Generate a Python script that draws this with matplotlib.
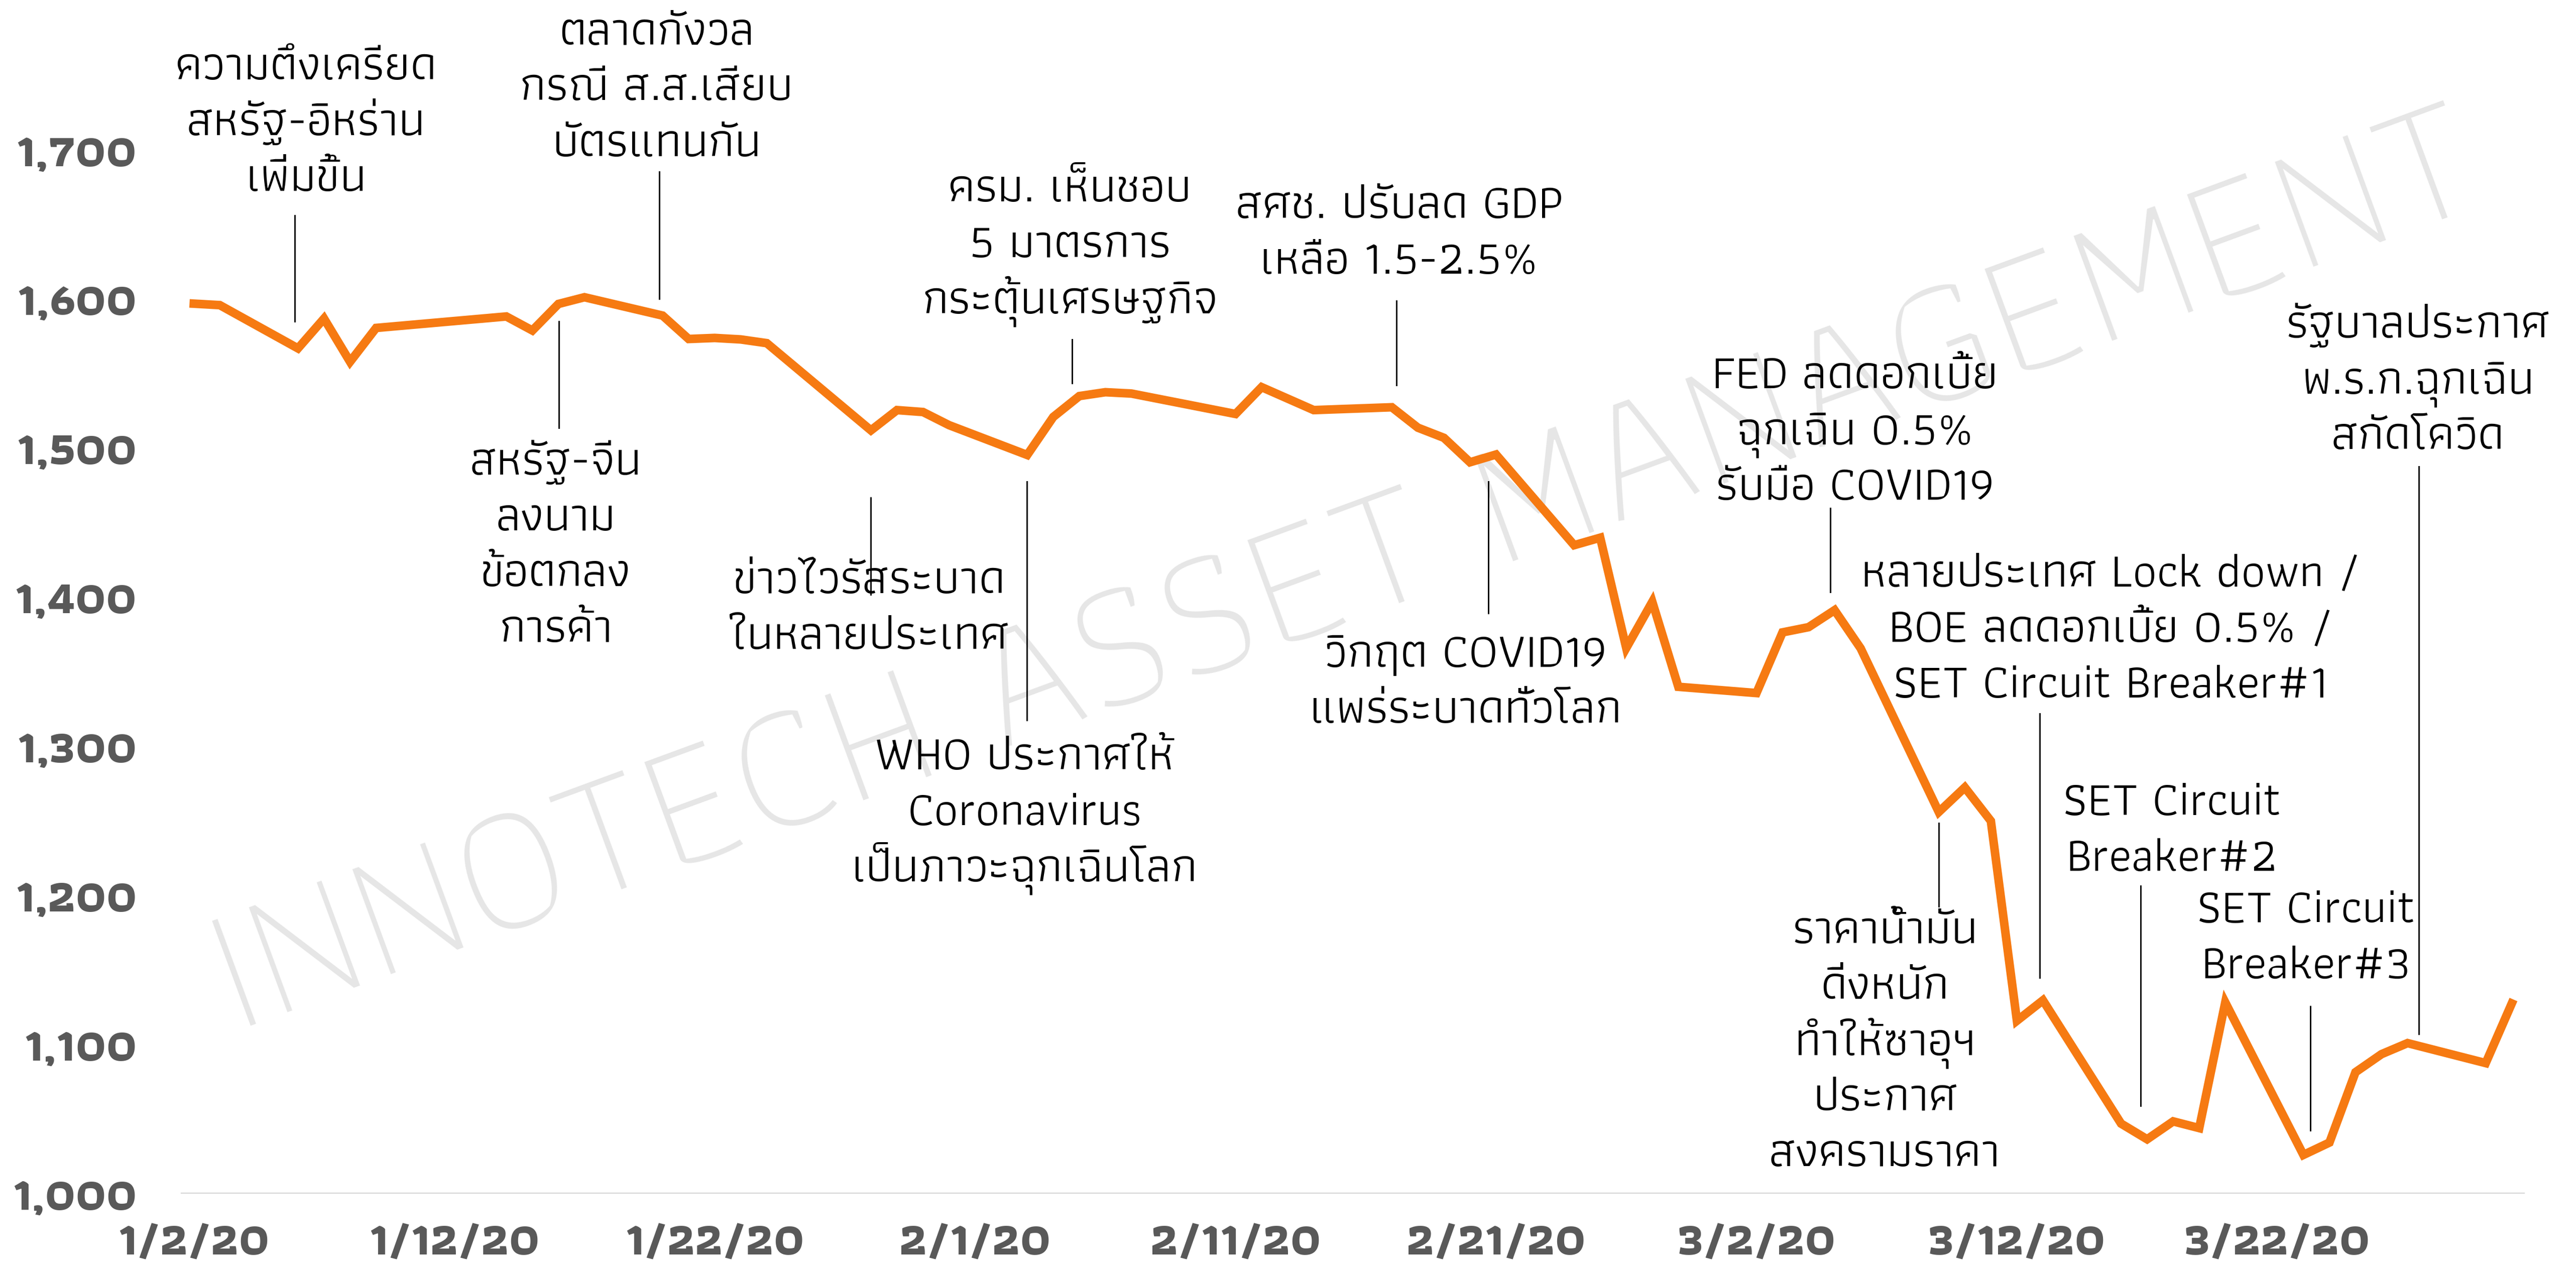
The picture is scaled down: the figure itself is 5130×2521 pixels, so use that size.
import matplotlib
matplotlib.use('Agg')
import matplotlib.pyplot as plt
from matplotlib import font_manager
from matplotlib.font_manager import FontProperties
import pandas as pd
import glob

# ---------------- data ----------------
dates = ['2020-01-02', '2020-01-03', '2020-01-06', '2020-01-07', '2020-01-08', '2020-01-09',
         '2020-01-14', '2020-01-15', '2020-01-16', '2020-01-17', '2020-01-20', '2020-01-21',
         '2020-01-22', '2020-01-23', '2020-01-24', '2020-01-28', '2020-01-29', '2020-01-30',
         '2020-01-31', '2020-02-03', '2020-02-04', '2020-02-05', '2020-02-06', '2020-02-07',
         '2020-02-11', '2020-02-12', '2020-02-14', '2020-02-17', '2020-02-18', '2020-02-19',
         '2020-02-20', '2020-02-21', '2020-02-24', '2020-02-25', '2020-02-26', '2020-02-27',
         '2020-02-28', '2020-03-02', '2020-03-03', '2020-03-04', '2020-03-05', '2020-03-06',
         '2020-03-09', '2020-03-10', '2020-03-11', '2020-03-12', '2020-03-13', '2020-03-16',
         '2020-03-17', '2020-03-18', '2020-03-19', '2020-03-20', '2020-03-23', '2020-03-24',
         '2020-03-25', '2020-03-26', '2020-03-27', '2020-03-30', '2020-03-31']
set_index = [1597, 1596, 1567, 1587, 1558, 1580.7,
             1588.4, 1579, 1596.8, 1601.3, 1589, 1573.3,
             1574, 1573, 1570.5, 1512, 1525.6, 1524.3,
             1515.5, 1495.5, 1521, 1535, 1537.6, 1536.7,
             1523, 1541, 1525.6, 1527.5, 1513.8, 1507,
             1490.6, 1495.8, 1435, 1440, 1366, 1397,
             1340, 1335.8, 1376.5, 1380, 1391.4, 1365.8,
             1256, 1272.5, 1250, 1116, 1129.7, 1047,
             1036.5, 1048.5, 1044, 1128.3, 1026, 1034.3,
             1081.5, 1093.6, 1101, 1087.6, 1127.6]

y_ticks = [1000, 1100, 1200, 1300, 1400, 1500, 1600, 1700]
y_tick_labels = ['1,000', '1,100', '1,200', '1,300', '1,400', '1,500', '1,600', '1,700']
x_tick_dates = ['2020-01-02', '2020-01-12', '2020-01-22', '2020-02-01', '2020-02-11',
                '2020-02-21', '2020-03-02', '2020-03-12', '2020-03-22']
x_tick_labels = ['1/2/20', '1/12/20', '1/22/20', '2/1/20', '2/11/20',
                 '2/21/20', '3/2/20', '3/12/20', '3/22/20']

notes = ['ความตึงเครียด\nสหรัฐ-อิหร่าน\nเพิ่มขึ้น',
         'ตลาดกังวล\nกรณี ส.ส.เสียบ\nบัตรแทนกัน',
         'สหรัฐ-จีน\nลงนาม\nข้อตกลง\nการค้า',
         'ข่าวไวรัสระบาด\nในหลายประเทศ',
         'WHO ประกาศให้\nCoronavirus\nเป็นภาวะฉุกเฉินโลก',
         'ครม. เห็นชอบ\n5 มาตรการ\nกระตุ้นเศรษฐกิจ',
         'สศช. ปรับลด GDP\nเหลือ 1.5-2.5%',
         'วิกฤต COVID19\nแพร่ระบาดทั่วโลก',
         'FED ลดดอกเบี้ย\nฉุกเฉิน 0.5%\nรับมือ COVID19',
         'ราคาน้ำมัน\nดิ่งหนัก\nทำให้ซาอุฯ\nประกาศ\nสงครามราคา',
         'หลายประเทศ Lock down /\nBOE ลดดอกเบี้ย 0.5% /\nSET Circuit Breaker#1',
         'SET Circuit\nBreaker#2',
         'SET Circuit\nBreaker#3',
         'รัฐบาลประกาศ\nพ.ร.ก.ฉุกเฉิน\nสกัดโควิด']
# label centre: days after 2020-01-02, index level
note_day = [4.3, 17.77, 13.9, 25.93, 31.9, 33.64, 46.28, 48.83, 63.79, 64.93, 73.6, 75.95, 81.1, 85.4]
note_lvl = [1718, 1741.3, 1434, 1392, 1255, 1636, 1643.6, 1342.5, 1510.6, 1101, 1378, 1243.2, 1171, 1544.6]
# leader lines: day, bottom level, top level
lead_day = [3.87, 14.01, 17.87, 26.0, 31.98, 33.73, 46.17, 49.7, 62.84, 67.0, 70.88, 74.76, 81.27, 85.44]
lead_lo = [1585, 1513.6, 1600.2, 1402, 1317.6, 1543.6, 1542.3, 1389.4, 1403.4, 1192.8, 1144.8, 1059, 1042.4, 1107]
lead_hi = [1656, 1585, 1685.5, 1467, 1477.6, 1573, 1598.9, 1477.6, 1459.7, 1248.6, 1322, 1206.5, 1125.7, 1487.7]

watermark = 'INNOTECH ASSET MANAGEMENT'

# ---------------- fonts ----------------
for p in glob.glob('/usr/share/fonts/**/*thiti*.*tf', recursive=True):
    try:
        font_manager.fontManager.addfont(p)
    except Exception:
        pass
FAM = ['Athiti', 'Noto Sans Thai', 'Loma', 'DejaVu Sans']

# ---------------- figure ----------------
W, H, DPI = 5130, 2521, 300
fig = plt.figure(figsize=(W / DPI, H / DPI), dpi=DPI)
ax = fig.add_axes([360 / W, (H - 2377) / H, (5028 - 360) / W, (2377 - 2) / H])
renderer = fig.canvas.get_renderer()

def metrics(s, size, weight='normal'):
    fp = FontProperties(family=FAM, weight=weight, size=size)
    return renderer.get_text_width_height_descent(s, fp, ismath=False)

def size_for_width(s, target_px, weight='normal'):
    return 10 * target_px / metrics(s, 10, weight)[0]

note_size = size_for_width('SET Circuit Breaker#1', 866)
x_height = metrics('x', note_size)[1]
line_pitch = 111  # pixels between text lines
tick_size = size_for_width('1/12/20', 340, 'bold')
wm_size = size_for_width(watermark, 4780, 'light')

x = pd.to_datetime(dates)
start = pd.Timestamp('2020-01-02')
ax.plot(x, set_index, color='#F67A12', lw=4.1, solid_joinstyle='miter', zorder=3)

ax.set_xlim(start - pd.Timedelta(hours=12), pd.Timestamp('2020-03-31') + pd.Timedelta(hours=12))
ax.set_ylim(1000, 1800)
ax.axhline(1000, color='#d6d6d6', lw=1.3, zorder=1)

for s in ax.spines.values():
    s.set_visible(False)
ax.set_yticks(y_ticks)
ax.set_yticklabels(y_tick_labels)
ax.set_xticks(pd.to_datetime(x_tick_dates))
ax.set_xticklabels(x_tick_labels)
ax.tick_params(length=0)
ax.tick_params(axis='y', pad=21)
ax.tick_params(axis='x', pad=14)
for lab in ax.get_xticklabels() + ax.get_yticklabels():
    lab.set_fontfamily(FAM)
    lab.set_fontweight('bold')
    lab.set_fontsize(tick_size)
    lab.set_color('#595959')

for d, lo, hi in zip(lead_day, lead_lo, lead_hi):
    xd = start + pd.Timedelta(days=d)
    ax.plot([xd, xd], [lo, hi], color='black', lw=0.7, zorder=2)

for t, d, v in zip(notes, note_day, note_lvl):
    xd = start + pd.Timedelta(days=d)
    lines = t.split('\n')
    n = len(lines)
    for i, ln in enumerate(lines):
        off = ((n - 1) / 2 - i) * line_pitch - x_height / 2
        ax.annotate(ln, xy=(xd, v), xytext=(0, off), textcoords='offset pixels',
                    ha='center', va='baseline', fontsize=note_size, family=FAM,
                    color='black', zorder=4, annotation_clip=False)

ax.text(0.5226, 0.545, watermark, transform=fig.transFigure, rotation=20.2, ha='center', va='center',
        rotation_mode='anchor', fontsize=wm_size, color='#e6e6e6', family=FAM, fontweight='light',
        zorder=0.5, clip_on=False)

fig.savefig('out.png', dpi=DPI)
